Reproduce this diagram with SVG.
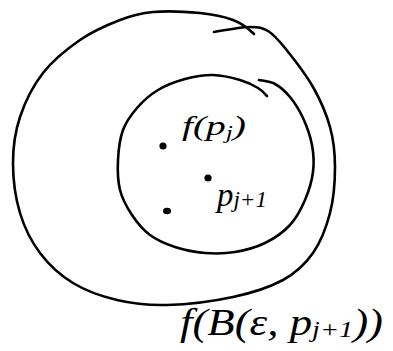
<svg xmlns="http://www.w3.org/2000/svg" width="393" height="351" viewBox="0 0 393 351">
<style>
.curve{fill:none;stroke:#000;stroke-width:2.6;stroke-linecap:round;stroke-linejoin:round}
.dot{fill:#000}
.lbl{font-family:"Liberation Serif",serif;font-style:italic;fill:#000}
</style>
<rect width="393" height="351" fill="#fff"/>
<g id="outer-set">
<path class="curve" d="M214,32 C220,31 241,27 250,27 C259,27 262.2,27.5 268,31 C273.8,34.5 277.5,38.7 285,48 C292.5,57.3 305.5,73.8 313,87 C320.5,100.2 326.3,113.7 330,127 C333.7,140.3 335,152.7 335,167 C335,181.3 333.7,198.7 330,213 C326.3,227.3 320.8,241.8 313,253 C305.2,264.2 296.3,272.7 283,280 C269.7,287.3 252.3,292.8 233,297 C213.7,301.2 186.3,304.5 167,305 C147.7,305.5 132.7,303.7 117,300 C101.3,296.3 85.8,290.8 73,283 C60.2,275.2 48.8,264.7 40,253 C31.2,241.3 24.5,228 20,213 C15.5,198 13,179 13,163 C13,147 15,132 20,117 C25,102 33,85.8 43,73 C53,60.2 67.2,48.8 80,40 C92.8,31.2 107.8,24.7 120,20 C132.2,15.3 139.7,13.2 153,12 C166.3,10.8 186.7,11.7 200,13 C213.3,14.3 224.2,16.7 233,20 C241.8,23.3 249,29 254,34"/>
</g>
<g id="inner-set">
<path class="curve" d="M259,80 C261.7,80.7 269.8,81.2 275,84 C280.2,86.8 285.3,91.3 290,97 C294.7,102.7 299.3,110 303,118 C306.7,126 310.3,136 312,145 C313.7,154 314.2,162.8 313,172 C311.8,181.2 308.8,191.2 305,200 C301.2,208.8 296.7,217.8 290,225 C283.3,232.2 274.2,238.5 265,243 C255.8,247.5 245,250.3 235,252 C225,253.7 215,253.8 205,253 C195,252.2 184.2,250 175,247 C165.8,244 157.2,240.3 150,235 C142.8,229.7 137,222.5 132,215 C127,207.5 122.3,199.2 120,190 C117.7,180.8 117.5,170 118,160 C118.5,150 119.8,138.7 123,130 C126.2,121.3 131.2,114.7 137,108 C142.8,101.3 150,94.8 158,90 C166,85.2 175.8,81.5 185,79 C194.2,76.5 203.8,74.8 213,75 C222.2,75.2 232.5,77.8 240,80 C247.5,82.2 253.5,85.3 258,88 C262.5,90.7 265,94 267,96"/>
</g>
<g id="point-fpj">
<circle class="dot" cx="163" cy="146" r="3.6"/>
<text class="lbl" x="182" y="135" font-size="28" textLength="64" lengthAdjust="spacingAndGlyphs">f(p<tspan font-size="18" dy="4">j</tspan><tspan dy="-4">)</tspan></text>
</g>
<g id="point-pj1">
<circle class="dot" cx="208" cy="178" r="3.6"/>
<text class="lbl" x="217" y="206" font-size="34" textLength="50" lengthAdjust="spacingAndGlyphs">p<tspan font-size="24" dy="1">j+1</tspan></text>
</g>
<g id="point-3">
<ellipse class="dot" cx="167" cy="211" rx="4" ry="3.2"/>
</g>
<g id="label-image">
<text class="lbl" x="180" y="335" font-size="38" textLength="203" lengthAdjust="spacingAndGlyphs">f(B(ε, p<tspan font-size="24" dy="2">j+1</tspan><tspan dy="-2">))</tspan></text>
</g>
</svg>
